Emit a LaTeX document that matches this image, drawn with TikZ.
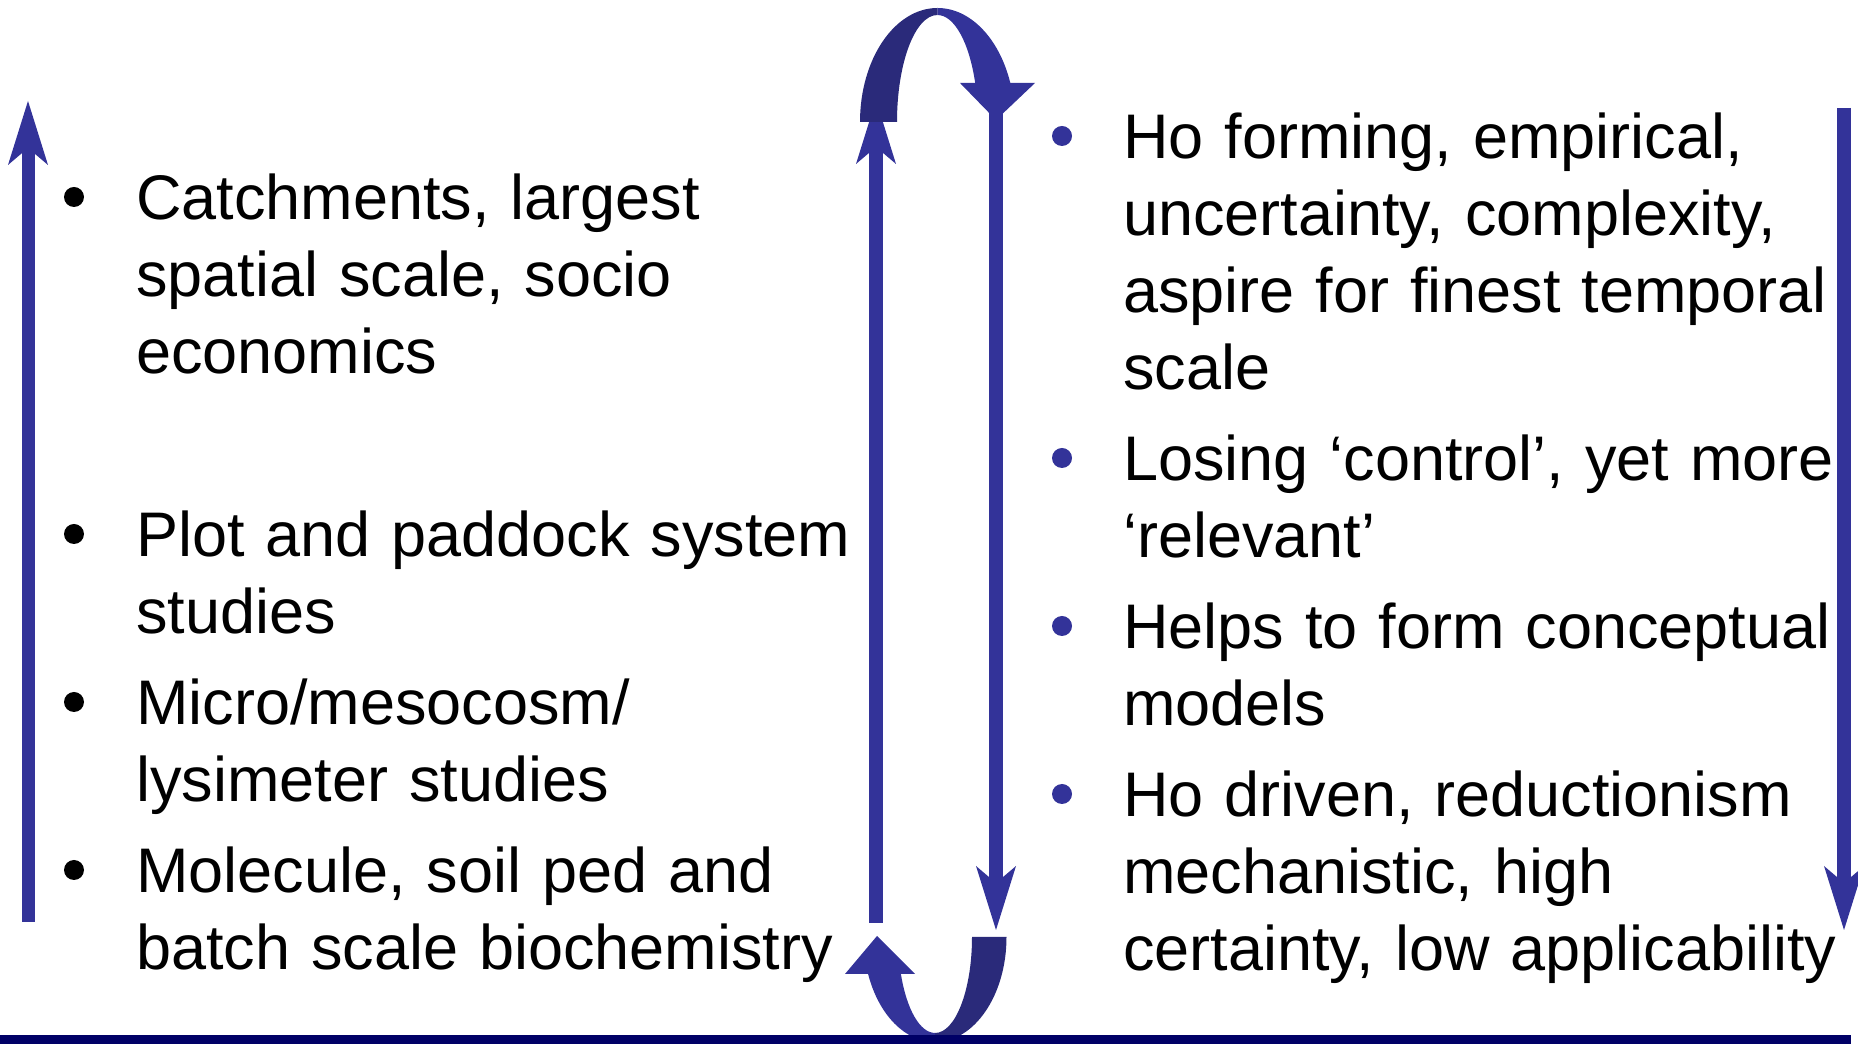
\documentclass[tikz,border=0pt]{standalone}
\usepackage{fontspec}
\setmainfont{Liberation Sans}
\usepackage{xcolor}
\usetikzlibrary{arrows.meta, positioning, calc}
\definecolor{arrowblue}{HTML}{333399}
\definecolor{arrowshade}{HTML}{2A2A7A}
\definecolor{navyrule}{HTML}{000066}
\tikzset{
	point/.style={text width=760pt, align=left, inner sep=0pt, anchor=base west, font=\fontsize{63}{77}\selectfont},
	scalearrow/.style={arrowblue, line width=14pt, -{Stealth[length=64pt, width=40pt, inset=17pt, line width=0pt]}},
}

\begin{document}
\begin{tikzpicture}[x=1pt, y=1pt]
			\useasboundingbox (0,0) rectangle (1858,1044);
			\node[point] (catch) at (136,824) {Catchments, largest\\spatial scale, socio\\economics};
			\node[point] (plot) at (136,487) {Plot and paddock system\\studies};
			\node[point] (micro) at (136,319) {Micro/mesocosm/\\lysimeter studies};
			\node[point] (molec) at (136,151) {Molecule, soil ped and\\batch scale biochemistry};
			\node[point] (hoform) at (1123,885) {Ho forming, empirical,\\uncertainty, complexity,\\aspire for finest temporal\\scale};
			\node[point] (losing) at (1123,563) {Losing ‘control’, yet more\\‘relevant’};
			\node[point] (helps) at (1123,395) {Helps to form conceptual\\models};
			\node[point] (hodriv) at (1123,227) {Ho driven, reductionism\\mechanistic, high\\certainty, low applicability};
			\foreach \n in {catch, plot, micro, molec}
				\fill ($(\n.base west)+(-62,23)$) circle (10pt);
			\foreach \n in {hoform, losing, helps, hodriv}
				\fill[arrowblue] ($(\n.base west)+(-61,23)$) circle (10pt);
			\coordinate (spacefoot) at (28,122);
			\coordinate (spacetop) at (28,943);
			\coordinate (timetop) at (1844,936);
			\coordinate (timefoot) at (1844,114);
			\coordinate (upfoot) at (876,121);
			\coordinate (uptop) at (876,944);
			\coordinate (downtop) at (996,931);
			\coordinate (downfoot) at (996,114);
			\draw[scalearrow, line width=13pt] (spacefoot) -- (spacetop);
			\draw[scalearrow] (timetop) -- (timefoot);
			\draw[scalearrow] (upfoot) -- (uptop);
			\draw[scalearrow] (downtop) -- (downfoot);
			\fill[arrowshade] (860,922) arc[start angle=180, end angle=90, x radius=77.5pt, y radius=114pt]
				-- (937.5,1029) arc[start angle=90, end angle=180, x radius=40.5pt, y radius=107pt] -- cycle;
			\fill[arrowblue] (937.5,1036) arc[start angle=90, end angle=20, x radius=77.5pt, y radius=114pt]
				-- (1035,961) -- (996,924) -- (960,961)
				-- (975.2,961) arc[start angle=21.4, end angle=90, x radius=40.5pt, y radius=107pt] -- cycle;
			\fill[arrowshade] (1006.5,107) arc[start angle=0, end angle=-90, x radius=71.5pt, y radius=105pt]
				-- (935,11) arc[start angle=-90, end angle=0, x radius=37pt, y radius=96pt] -- cycle;
			\fill[arrowblue] (935,2) arc[start angle=270, end angle=200.6, x radius=71.5pt, y radius=105pt]
				-- (845,70) -- (877,108) -- (915,70)
				-- (900.9,70) arc[start angle=202.7, end angle=270, x radius=37pt, y radius=96pt] -- cycle;
			\fill[navyrule] (0,0) rectangle (1851,9);
\end{tikzpicture}
\end{document}
